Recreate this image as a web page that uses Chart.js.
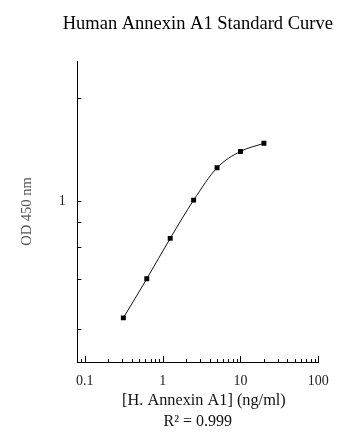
<!DOCTYPE html>
<html>
<head>
<meta charset="utf-8">
<script src="https://cdn.jsdelivr.net/npm/chart.js@4/dist/chart.umd.min.js"></script>
<style>
  html, body { margin: 0; padding: 0; background: #fff; }
  #curve { display: block; }
</style>
</head>
<body>
<canvas id="curve" width="360" height="444"></canvas>
<script>
// concentrations (ng/ml) and OD 450 nm
const concentrations = [0.3125, 0.625, 1.25, 2.5, 5, 10, 20];
const odValues = [0.279, 0.428, 0.667, 1.014, 1.445, 1.73, 1.89];

const xMajorTicks = [0.1, 1, 10, 100];
const xMinorTicks = [0.09, 0.2, 0.3, 0.4, 0.5, 0.6, 0.7, 0.8, 0.9,
                     2, 3, 4, 5, 6, 7, 8, 9,
                     20, 30, 40, 50, 60, 70, 80, 90];
const yLabelTicks = [1];
const yOtherTicks = [3.09, 0.8, 0.608, 0.425, 0.248];

const serif = "'Liberation Serif', 'Times New Roman', serif";

// little inward tick marks, placed through the chart's own scales
const tickMarks = {
    id: "tickMarks",
    afterLayout: function (chart) {
        // title is centred on the plot but wider than it
        const t = chart.titleBlock;
        if (t) { t.left -= 30; t.right += 30; t.width = t.right - t.left; }
    },
    afterDraw: function (chart) {
        const ctx = chart.ctx;
        const area = chart.chartArea;
        const xs = chart.scales.x;
        const ys = chart.scales.y;
        ctx.save();
        ctx.strokeStyle = "#000";
        ctx.lineWidth = 1;
        ctx.beginPath();
        xMajorTicks.forEach(v => {
            const px = Math.round(xs.getPixelForValue(v)) + 0.5;
            ctx.moveTo(px, area.bottom);
            ctx.lineTo(px, area.bottom - 6);
        });
        xMinorTicks.forEach(v => {
            const px = Math.round(xs.getPixelForValue(v)) + 0.5;
            ctx.moveTo(px, area.bottom);
            ctx.lineTo(px, area.bottom - 3);
        });
        yLabelTicks.concat(yOtherTicks).forEach(v => {
            const py = Math.round(ys.getPixelForValue(v)) + 0.5;
            ctx.moveTo(area.left, py);
            ctx.lineTo(area.left + 4, py);
        });
        ctx.stroke();
        ctx.restore();
    }
};

const points = concentrations.map((c, i) => ({ x: c, y: odValues[i] }));

new Chart(document.getElementById("curve"), {
    type: "line",
    data: {
        datasets: [{
            data: points,
            borderColor: "#111",
            borderWidth: 1,
            backgroundColor: "#000",
            pointStyle: "rect",
            pointRadius: 3.5,
            pointBorderWidth: 0,
            pointBackgroundColor: "#000",
            cubicInterpolationMode: "monotone",
            fill: false
        }]
    },
    options: {
        responsive: false,
        animation: false,
        devicePixelRatio: 1,
        layout: { padding: { left: 0, right: 41.7, top: 0, bottom: 0 } },
        plugins: {
            legend: { display: false },
            tooltip: { enabled: false },
            title: {
                display: true,
                text: "Human Annexin A1 Standard Curve",
                fullSize: false,
                color: "#000",
                font: { family: serif, size: 18.5, weight: "normal" },
                padding: { top: 12.7, bottom: 26.1 }
            },
            subtitle: {
                display: true,
                position: "bottom",
                text: "R² = 0.999",
                fullSize: false,
                color: "#111",
                font: { family: serif, size: 16, weight: "normal" },
                padding: { top: 0, bottom: 12.4 }
            }
        },
        scales: {
            x: {
                type: "logarithmic",
                min: 0.08,
                max: 100,
                grid: { display: false },
                border: { display: true, color: "#000", width: 1 },
                ticks: {
                    color: "#222",
                    padding: 3,
                    maxRotation: 0,
                    font: { family: serif, size: 14 },
                    callback: function (v) { return String(v); }
                },
                afterBuildTicks: function (s) {
                    s.ticks = xMajorTicks.map(v => ({ value: v }));
                },
                afterFit: function (s) {
                    s.height = 50.4;
                    s.paddingLeft = 0;
                    s.paddingRight = 0;
                },
                title: {
                    display: true,
                    text: "   [H. Annexin A1] (ng/ml)",
                    color: "#111",
                    font: { family: serif, size: 16.3 },
                    padding: { top: 0, bottom: 2.1 }
                }
            },
            y: {
                type: "logarithmic",
                min: 0.172,
                max: 4.66,
                grid: { display: false },
                border: { display: true, color: "#000", width: 1 },
                ticks: {
                    color: "#222",
                    padding: 3.5,
                    font: { family: serif, size: 14 },
                    callback: function (v) { return String(v); }
                },
                afterBuildTicks: function (s) {
                    s.ticks = yLabelTicks.map(v => ({ value: v }));
                },
                afterFit: function (s) {
                    s.width = 77.3;
                    s.paddingTop = 0;
                    s.paddingBottom = 0;
                },
                title: {
                    display: true,
                    text: "OD 450 nm",
                    color: "#555",
                    font: { family: serif, size: 14.5 },
                    padding: { top: 18.8, bottom: 0 }
                }
            }
        }
    },
    plugins: [tickMarks]
});
</script>
</body>
</html>
